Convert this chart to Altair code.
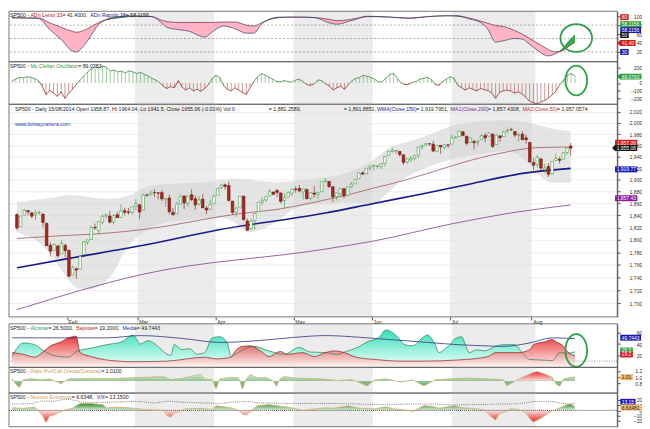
import altair as alt
import pandas as pd
import numpy as np

W = 615
XMIN, XMAX = -0.8, 160.2
FONT = "Liberation Sans"
FS = 5.3
TAG_FS = 5.0

# ---------------- data ----------------
month_names = ["Feb", "Mar", "Apr", "May", "Jun", "Jul", "Aug"]
month_start = [14, 33, 54, 75, 96, 117, 139]
shaded_months = [(33, 53), (75, 95), (117, 138)]

opens = [1841.3,1821.4,1840.5,1848.0,1844.2,1841.1,1844.7,1842.3,1827.0,1791.0,
1783.0,1790.2,1777.2,1790.9,1782.7,1743.8,1753.4,1753.0,1776.0,1796.2,
1800.4,1820.1,1814.8,1828.5,1839.0,1838.9,1829.2,1841.1,1836.8,1847.7,
1845.8,1844.9,1855.1,1857.7,1849.2,1874.1,1874.2,1878.5,1877.9,1878.3,
1866.2,1869.1,1845.1,1842.8,1858.9,1872.3,1860.1,1874.5,1867.7,1859.5,
1867.1,1852.1,1850.1,1859.2,1874.0,1886.6,1891.4,1890.3,1863.9,1845.5,
1852.6,1872.3,1830.7,1818.2,1831.5,1846.0,1861.7,1865.8,1872.6,1879.3,
1882.0,1877.7,1865.0,1870.8,1877.1,1884.4,1885.3,1879.5,1883.7,1868.5,
1877.4,1875.3,1880.0,1896.8,1897.1,1888.2,1871.2,1876.7,1884.9,1873.3,
1888.2,1893.3,1902.0,1911.8,1910.6,1920.3,1923.9,1923.1,1923.1,1928.5,
1942.4,1949.0,1950.3,1949.4,1943.4,1930.8,1934.8,1937.2,1942.7,1957.5,
1960.5,1962.9,1962.0,1949.3,1959.9,1956.6,1960.8,1962.3,1973.1,1975.9,
1984.2,1976.4,1965.1,1966.7,1965.8,1969.9,1977.4,1976.4,1979.8,1961.5,
1976.9,1975.7,1985.3,1988.1,1984.6,1978.3,1980.0,1973.2,1965.1,1929.8,
1926.6,1936.3,1917.3,1923.0,1910.4,1933.4,1935.7,1935.6,1947.4,1958.87]
highs = [1843.5,1839.3,1850.8,1848.0,1846.0,1849.3,1846.9,1842.3,1827.0,1796.0,
1793.9,1790.2,1798.8,1793.9,1784.8,1758.7,1755.8,1774.1,1798.0,1799.9,
1823.5,1826.6,1830.3,1841.7,1842.9,1847.5,1842.8,1846.1,1858.7,1852.9,
1852.7,1854.5,1867.9,1857.7,1876.2,1876.5,1881.9,1883.6,1877.9,1882.4,
1868.4,1874.4,1852.4,1862.3,1873.8,1874.1,1873.5,1884.0,1873.3,1871.9,
1875.9,1855.6,1866.6,1875.2,1885.8,1893.2,1893.8,1897.3,1864.0,1855.0,
1872.4,1872.5,1835.1,1834.2,1844.0,1862.3,1869.6,1871.9,1884.9,1879.8,
1884.1,1877.7,1877.0,1880.6,1885.2,1888.6,1891.3,1885.5,1883.7,1879.0,
1889.1,1878.8,1897.1,1902.2,1897.1,1888.2,1878.3,1886.0,1884.9,1888.8,
1896.3,1901.3,1912.3,1914.5,1920.0,1924.0,1925.9,1925.1,1928.6,1941.7,
1949.4,1955.6,1950.9,1949.4,1943.4,1937.3,1941.2,1943.7,1957.7,1959.9,
1963.9,1963.7,1968.2,1960.8,1959.9,1961.0,1962.8,1978.6,1976.7,1985.6,
1984.2,1976.4,1974.2,1969.8,1968.7,1979.8,1982.5,1983.9,1981.8,1979.9,
1976.9,1986.2,1989.2,1991.4,1984.6,1981.5,1984.9,1978.9,1965.1,1937.4,
1942.9,1936.3,1927.9,1928.9,1932.4,1944.9,1939.7,1948.4,1955.2,1964.04]
lows = [1815.5,1821.4,1840.5,1840.3,1835.2,1832.4,1840.9,1820.1,1790.3,1772.9,
1783.0,1771.0,1777.2,1772.3,1739.7,1743.8,1737.9,1753.0,1776.0,1791.8,
1800.4,1816.0,1809.2,1825.6,1835.0,1827.0,1824.9,1835.6,1836.8,1840.2,
1840.7,1841.1,1847.7,1834.4,1849.2,1871.9,1874.2,1870.6,1867.0,1863.9,
1854.4,1841.9,1839.6,1842.8,1858.9,1850.6,1854.6,1863.5,1849.7,1856.0,
1852.6,1842.1,1850.1,1859.2,1874.0,1883.8,1882.7,1863.3,1841.5,1837.5,
1852.4,1830.9,1814.4,1815.8,1816.3,1846.0,1856.7,1863.2,1872.6,1873.9,
1870.2,1859.7,1850.6,1870.8,1872.7,1878.0,1878.5,1866.8,1867.7,1864.9,
1870.1,1867.0,1880.0,1896.1,1885.8,1862.4,1864.8,1872.4,1868.1,1873.3,
1885.4,1893.3,1902.0,1908.5,1909.8,1916.6,1916.0,1918.8,1918.6,1922.9,
1942.4,1947.2,1944.6,1940.1,1925.8,1927.7,1930.9,1933.6,1937.9,1952.3,
1959.2,1958.9,1948.3,1947.5,1944.7,1952.2,1955.3,1962.3,1972.6,1975.9,
1975.7,1959.5,1965.1,1952.9,1959.6,1969.9,1965.3,1975.7,1955.6,1960.8,
1965.8,1975.7,1982.4,1985.8,1974.4,1966.9,1969.9,1962.4,1930.7,1916.4,
1921.2,1913.8,1911.5,1904.8,1909.0,1933.4,1928.3,1935.6,1942.9,1941.5]
closes = [1819.2,1838.9,1848.4,1845.9,1838.7,1843.8,1844.9,1828.5,1790.3,1781.6,
1792.5,1774.2,1794.2,1782.6,1741.9,1755.2,1751.6,1773.4,1797.0,1799.8,
1819.8,1819.3,1829.8,1838.6,1840.8,1828.8,1839.8,1836.3,1847.6,1845.1,
1845.2,1854.3,1859.5,1845.7,1873.9,1873.8,1877.0,1878.0,1877.2,1867.6,
1868.2,1846.3,1841.1,1858.8,1872.3,1860.8,1872.0,1866.5,1857.4,1865.6,
1852.6,1849.0,1857.6,1872.3,1885.5,1890.9,1888.8,1865.1,1845.0,1851.9,
1872.2,1833.1,1815.7,1830.6,1843.0,1862.3,1864.9,1871.9,1879.6,1875.4,
1878.6,1863.4,1869.4,1878.3,1884.0,1883.7,1881.1,1884.7,1867.7,1878.2,
1875.6,1878.5,1896.7,1897.5,1888.5,1870.9,1877.9,1885.1,1872.8,1888.0,
1892.5,1900.5,1911.9,1909.8,1920.0,1923.6,1925.0,1924.2,1927.9,1940.5,
1949.4,1951.3,1950.8,1943.9,1930.1,1936.2,1937.8,1942.0,1957.0,1959.5,
1962.9,1962.6,1950.0,1959.5,1957.2,1961.0,1960.2,1973.3,1974.6,1985.4,
1977.7,1963.7,1972.8,1964.7,1967.6,1977.1,1973.3,1981.6,1958.1,1978.2,
1973.6,1983.5,1987.0,1988.0,1978.3,1978.9,1970.0,1970.1,1930.7,1925.2,
1939.0,1920.2,1920.2,1909.6,1931.6,1936.9,1933.8,1946.7,1955.2,1955.06]

ma50_idx = [0,10,20,30,40,50,60,70,80,90,96,100,110,120,130,140,149]
ma50_val = [1802,1806,1809,1814,1822,1833,1843,1850,1862,1876,1886,1892,1910,1930,1946,1956,1957.06]
wma_idx = [0,14,34,54,83,96,109,122,137,149]
wma_val = [1755,1770,1791,1816,1844,1860,1876,1893,1912,1919.77]
ma200_idx = [0,34,83,96,117,135,142,149]
ma200_val = [1690,1745,1785,1798,1826,1846,1852,1857.43]
band_idx = [0,5,10,14,17,20,25,30,35,40,45,50,55,60,62,65,70,75,80,85,90,96,100,105,110,117,125,132,138,141,144,149]
band_up = [1862,1866,1870,1874,1873,1870,1868,1873,1888,1893,1894,1896,1900,1902,1901,1898,1896,1898,1902,1906,1915,1935,1955,1966,1976,1995,2003,2005,2000,1995,1990,1985]
band_lo = [1812,1800,1770,1735,1722,1722,1740,1790,1815,1828,1832,1835,1836,1822,1812,1815,1830,1852,1858,1860,1862,1858,1880,1905,1920,1935,1945,1950,1925,1905,1895,1895]

adn_idx = [0,4,7,10,13,16,17,20,23,25,28,31,35,37,40,41,44,47,50,51,53,56,59,62,64,66,68,71,75,80,84,86,89,91,94,100,105,110,115,118,121,124,126,128,130,133,135,137,139,141,142,144,145,146,147,148,149]
adn_lento = [96,96,96,85,75,66,64,72,86,92,96,99,100,99,90,88,86,86,86,86,86,87,87,80,78,85,92,97,98,97,93,90,92,95,99,98,96,99,101,100,96,89,84,79,77,68,60,50,40,30,25,20,21,24,30,36,41.4]
adn_rapido = [97,96,95,70,48,22,20,45,82,93,99,101,100,99,82,75,70,66,55,53,65,78,72,62,62,82,93,98,98,97,85,82,88,93,100,98,95,99,101,101,94,86,70,42,45,50,49,37,24,13,11,17,22,30,40,50,58.1156]
adn_dash = [80, 50, 20]

mcc_val = [25,50,70,65,78,72,55,30,
-40,-150,-90,-130,-170,-110,-195,-130,-80,-20,
40,90,140,180,205,190,215,200,
150,165,140,150,125,155,140,120,135,110,
90,60,40,10,
-40,-70,-45,-60,30,
-50,-90,-60,-100,-80,-105,-70,-20,
60,98,70,
-30,-80,-100,-60,-90,-120,-145,
-60,20,80,119,100,75,50,20,
15,30,20,10,35,50,20,
-20,-30,-10,40,30,-10,
-40,-90,-60,-40,-80,
-20,30,60,70,98,85,70,50,
10,20,60,
110,119,60,
0,-20,-15,10,20,
50,60,70,45,-20,-30,
20,50,80,60,
-30,-60,-90,-60,-80,-100,-70,-85,-95,-130,-194,-120,-100,-90,-100,-130,-110,-140,-180,-230,-250,-262,-240,-220,-190,-150,-100,-20,
40,100,119,89.0783]

alc_idx = [0,3,6,8,11,13,15,17,21,25,29,32,34,36,39,41,42,43,45,47,49,51,53,55,57,58,59,64,68,72,76,79,83,86,88,92,94,97,99,102,104,106,109,110,112,113,115,116,117,119,120,121,123,125,128,130,133,135,137,140,143,145,147,149]
alc_val = [18,42,39,30,20,18,17,27,33,39,44,56,40,46,34,22,20,39,30,32,22,25,51,53,42,18,22,36,28,22,34,26,25,22,26,36,44,51,65,53,39,37,53,56,39,25,34,39,48,53,39,25,30,28,36,39,39,25,13,12,11,25,24,26.5]
baj_idx = [0,3,6,8,10,13,15,16,17,18,21,25,32,41,51,54,58,59,61,63,66,68,71,73,77,80,83,85,88,91,96,103,109,118,126,128,134,137,138,141,143,144,146,147,149]
baj_val = [25,22,17,25,36,44,51,53,54,25,18,12,9,10,17,14,17,27,36,37,27,18,27,22,25,18,25,28,25,17,13,10,10,12,18,25,25,30,39,44,48,44,36,27,19.2]
media_idx = [0,25,34,45,55,65,75,83,92,100,110,118,125,130,137,143,149]
media_val = [51,51,55,50,43,46,52,55,52,48,43,39,37,36,42,51,49.7443]

pc_idx = [0,1,2,3,5,8,10,13,15,20,25,30,35,40,42,45,48,50,51,53,54,55,58,60,61,62,63,65,67,69,70,71,72,75,80,83,86,90,94,96,99,103,106,109,112,117,121,126,130,131,132,134,136,138,139,141,143,144,145,146,148,149]
pc_val = [0.96,0.78,0.69,0.92,0.96,0.92,0.95,0.80,0.95,0.97,0.96,0.98,1.0,1.03,0.93,0.97,1.05,1.09,0.95,0.92,0.63,0.95,1.0,0.98,0.63,0.95,1.09,0.98,1.0,0.90,0.72,0.95,1.02,0.98,0.96,0.94,0.90,0.93,0.73,0.92,0.95,0.85,0.92,0.73,0.92,0.96,0.98,0.95,0.93,0.73,0.80,0.94,1.05,1.15,1.18,1.10,1.0,0.78,0.72,0.95,1.0,1.01]

ne_idx = [0,3,6,7,8,9,10,11,12,14,16,17,18,21,24,25,28,31,35,40,41,42,43,46,50,53,54,56,58,60,61,62,63,65,68,71,74,77,80,83,85,89,92,96,99,101,104,106,109,111,113,117,119,122,125,127,128,129,132,134,135,136,137,138,140,142,143,145,147,148,149]
ne_val = [5,4,6,0,-9,-23,-10,-9,-5,1,4,9,13,13,11,5,6,5,2,0,-9,-13,-5,3,4,2,9,7,5,0,-7,-9,-3,9,11,8,5,0,3,5,4,9,4,3,7,3,1,-2,9,8,4,9,5,4,1,-13,-18,-7,3,2,-1,-5,-15,-22,-15,-5,-1,5,11,12,6.6348]
vix_idx = [0,5,8,11,14,16,19,25,33,38,41,45,55,58,62,66,75,84,88,95,100,105,112,117,122,128,131,135,138,141,143,145,147,149]
vix_val = [12.3,12.9,18.1,17.3,21.4,19.9,15.3,15.5,17.4,14.2,17.8,15.8,13.1,15.6,17.0,14.0,13.3,13.2,12.9,11.4,10.7,12.2,12.1,10.3,11.0,12.0,12.1,13.3,17.0,16.9,16.7,14.2,12.4,13.15]

# ---------------- helpers ----------------
_w = {}
for chars, wv in [("ijl'|", 222), (" ,./:;ftI!", 278), ("-()r[]", 333), ("ckvxyzsJ", 500),
                  ("0123456789abdeghnopquL", 556), ("=+<>", 584), ("TZF", 611),
                  ("ABESPVXYK", 667), ("CDHNRUw", 722), ("GOQ", 778), ("mM", 833), ("%", 889), ("W", 944)]:
    for ch in chars:
        _w[ch] = wv


def tw(s, fs=FS):
    return sum(_w.get(ch, 556) for ch in s) / 1000.0 * fs


def px2idx(px):
    return XMIN + px * (XMAX - XMIN) / W


xscale = alt.Scale(domain=[XMIN, XMAX], nice=False, zero=False)


def X(field, axis=None):
    return alt.X(field, type="quantitative", scale=xscale, axis=axis, title=None)


def raxis(values, fmt=None, grid=False):
    kw = dict(orient="right", values=values, tickSize=3, labelFontSize=FS, labelFont=FONT,
              labelColor="#333333", tickColor="#555555", domainColor="#555555",
              labelAlign="right", labelPadding=22, grid=grid, title=None,
              labelOverlap=False, labelBound=False)
    if fmt:
        kw["format"] = fmt
    if grid:
        kw.update(gridColor="#e0e0e0", gridWidth=0.6)
    return alt.Axis(**kw)


def yfac(scale, axis):
    def Y(field):
        return alt.Y(field, type="quantitative", scale=scale, axis=axis, title=None)
    return Y


shade_df = pd.DataFrame({"x0": [a - 0.5 for a, b in shaded_months],
                         "x1": [b + 0.5 for a, b in shaded_months]})
one_df = pd.DataFrame({"a": [0]})


def shade(H, xa=None):
    return alt.Chart(shade_df).mark_rect(color="#e2e2e2", opacity=0.65).encode(
        x=X("x0", xa), x2="x1", y=alt.value(0), y2=alt.value(H))


def frame(H):
    return alt.Chart(one_df).mark_rect(fillOpacity=0, stroke="#555555", strokeWidth=0.8).encode(
        x=alt.value(0), x2=alt.value(W), y=alt.value(0), y2=alt.value(H))


def titles(segs, y=4, xa=None, start_px=1.0):
    rows = []
    px = start_px
    for s in segs:
        if len(s) > 2:
            px = s[2]
        rows.append({"tx": px2idx(px), "t": s[0], "c": s[1]})
        px += tw(s[0])
    df = pd.DataFrame(rows)
    return alt.Chart(df).mark_text(align="left", baseline="middle", font=FONT, fontSize=FS).encode(
        x=X("tx", xa), y=alt.value(y), text="t:N", color=alt.Color("c:N", scale=None))


def tags(taglist, Y, xa=None):
    rows = []
    left = 618.0
    for text, pos, bg, fg, arrow in taglist:
        w = tw(text, TAG_FS) + 3.0
        h = 6.0
        s = w / 2.0
        a = h / w
        if arrow:
            path = f"M{-1 - 3.0 / s:.4f},0L-1,{-a:.4f}L1,{-a:.4f}L1,{a:.4f}L-1,{a:.4f}Z"
        else:
            path = f"M-1,{-a:.4f}L1,{-a:.4f}L1,{a:.4f}L-1,{a:.4f}Z"
        rows.append({"bx": px2idx(left + w / 2.0), "tx": px2idx(left + 1.5), "pos": pos,
                     "path": path, "sz": w * w, "bg": bg, "fg": fg, "t": text})
    df = pd.DataFrame(rows)
    base = alt.Chart(df)
    boxes = base.mark_point(filled=True, opacity=1, strokeWidth=0).encode(
        x=X("bx", xa), y=Y("pos"), shape=alt.Shape("path:N", scale=None),
        size=alt.Size("sz:Q", scale=None), fill=alt.Fill("bg:N", scale=None))
    texts = base.mark_text(align="left", baseline="middle", font=FONT, fontSize=TAG_FS).encode(
        x=X("tx", xa), y=Y("pos"), text="t:N", color=alt.Color("fg:N", scale=None))
    return alt.layer(boxes, texts)


def ellipse(xi, yv, w, h, Y):
    a = h / w
    path = f"M-1,0A1,{a:.4f} 0 1,1 1,0A1,{a:.4f} 0 1,1 -1,0Z"
    df = pd.DataFrame({"ex": [xi], "ey": [yv]})
    return alt.Chart(df).mark_point(shape=path, size=w * w, filled=False, stroke="#2ca048",
                                    strokeWidth=1.8, opacity=1).encode(x=X("ex"), y=Y("ey"))


def grad(c_top, c_bot):
    return alt.Gradient(gradient="linear",
                        stops=[alt.GradientStop(color=c_top, offset=0),
                               alt.GradientStop(color=c_bot, offset=1)],
                        x1=0, x2=0, y1=0, y2=1)


BLK = "#222222"
ELL_X = px2idx(573.5)

# ---------------- panel 1: ADn ----------------
H1 = 51
Y1 = yfac(alt.Scale(domain=[-2, 111], nice=False, zero=False), raxis([20, 40, 60, 80, 100]))
adn = pd.DataFrame({"idx": adn_idx, "L": adn_lento, "R": adn_rapido})
adn["lo"] = np.minimum(adn["L"], adn["R"])
t1 = [("SP500 - ", BLK), ("ADn Lento 33", "#c02020"), (" = 41.4000, ", BLK),
      ("ADn Rapido 18", "#2020a0"), (" = 58.1156", BLK)]
tags1 = [("80", 97.8, "#d41a1a", "#ffffff", False),
         ("58.1156", 82.2, "#2e9e3a", "#ffffff", False),
         ("58.1156", 68.9, "#1a1ab4", "#ffffff", False),
         ("50", 57.8, "#111111", "#ffffff", False),
         ("41.40", 40.0, "#d41a1a", "#ffffff", True),
         ("30", 20.0, "#1a1ab4", "#ffffff", False)]
p1 = alt.layer(
    shade(H1),
    alt.Chart(pd.DataFrame({"v": adn_dash})).mark_rule(color="#777777", strokeDash=[2, 2], strokeWidth=0.6).encode(y=Y1("v")),
    alt.Chart(adn).mark_area(color="#ffb3c4", interpolate="monotone").encode(x=X("idx"), y=Y1("L"), y2="lo"),
    alt.Chart(adn).mark_area(color="#35b040", interpolate="monotone").encode(x=X("idx"), y=Y1("R"), y2="lo"),
    alt.Chart(adn).mark_line(color="#6a2a3a", strokeWidth=0.7, interpolate="monotone").encode(x=X("idx"), y=Y1("L")),
    alt.Chart(adn).mark_line(color="#3a3a6a", strokeWidth=0.7, interpolate="monotone").encode(x=X("idx"), y=Y1("R")),
    titles(t1),
    tags(tags1, Y1),
    ellipse(ELL_X, 51, 32, 28, Y1),
    frame(H1),
).properties(width=W, height=H1)

# ---------------- panel 2: McClellan ----------------
H2 = 43
Y2 = yfac(alt.Scale(domain=[-269, 269], nice=False, zero=False), raxis([-200, -100, 0, 100, 200]))
mcc = pd.DataFrame({"idx": list(range(len(mcc_val))), "v": mcc_val})
mcc["z"] = 0.0
mcc["c"] = np.where(mcc["v"] >= 0, "#62a862", "#b25050")
seg = mcc.iloc[:-1].copy()
seg["nx"] = mcc["idx"].values[1:]
seg["nv"] = mcc["v"].values[1:]
seg["c"] = np.where((seg["v"] + seg["nv"]) >= 0, "#3f8a3f", "#9a3030")
t2 = [("SP500 - ", BLK), ("Mc Clellan Oscillator", "#3a9a3a"), (" = 89.0783", BLK)]
tags2 = [("89.0783", 81, "#2e9e3a", "#ffffff", True)]
p2 = alt.layer(
    shade(H2),
    alt.Chart(mcc).mark_rule(strokeWidth=0.6).encode(x=X("idx"), y=Y2("v"), y2="z", color=alt.Color("c:N", scale=None)),
    alt.Chart(seg).mark_rule(strokeWidth=0.8).encode(x=X("idx"), x2="nx", y=Y2("v"), y2="nv", color=alt.Color("c:N", scale=None)),
    titles(t2),
    tags(tags2, Y2),
    ellipse(ELL_X, 31, 22, 30, Y2),
    frame(H2),
).properties(width=W, height=H2)

# ---------------- panel 3: price ----------------
H3 = 215
month_expr = " : ".join(f"datum.value == {s - 0.5} ? '{n}'" for s, n in zip(month_start, month_names)) + " : ''"
MAX = alt.Axis(values=[s - 0.5 for s in month_start], labelExpr=month_expr, orient="bottom", tickSize=3,
               tickColor="#555555", labelAlign="left", labelFontSize=FS, labelFont=FONT, labelColor="#333333",
               labelPadding=0, labelOffset=1, domain=False, grid=False, labelBound=False, labelOverlap=False,
               title=None)
Y3 = yfac(alt.Scale(type="log", domain=[1679, 2034], nice=False, zero=False),
          raxis(list(range(1700, 2021, 20)), fmt=",.0f", grid=True))
candles = pd.DataFrame({"idx": list(range(len(closes))), "o": opens, "h": highs, "l": lows, "c": closes})
up = candles["c"] >= candles["o"]
candles["wick"] = np.where(up, "#3a8f3a", "#7a1a10")
candles["fillc"] = np.where(up, "#ffffff", "#a8281c")
candles["strk"] = np.where(up, "#3a9a3a", "#6e150e")
band = pd.DataFrame({"idx": band_idx, "u": band_up, "lo": band_lo})
ma50 = pd.DataFrame({"idx": ma50_idx, "v": ma50_val})
wma = pd.DataFrame({"idx": wma_idx, "v": wma_val})
ma200 = pd.DataFrame({"idx": ma200_idx, "v": ma200_val})
t3 = [("SP500 - Daily 15/08/2014 Open 1958.87, Hi 1964.04, Lo 1941.5, Close 1955.06 (-0.01%) Vol 0", BLK),
      ("= 1,881.2589,", BLK, 262),
      ("= 1,891.8851, ", BLK, 339), ("WMA(Close,150)", "#1a1a90"), (" = 1,919.7951, ", BLK),
      ("MA1(Close,200)", "#7a2a8a"), (" = 1,857.4308, ", BLK), ("MA2(Close,50)", "#c03030"),
      (" = 1,957.0574", BLK)]
t3b = [("www.bolsaycartera.com", "#2a3ab0")]
tags3 = [("1,957.06", 1964.6, "#d41a1a", "#ffffff", False),
         ("1,955.06", 1955.2, "#111111", "#ffffff", True),
         ("1,919.77", 1918.0, "#1a1ab4", "#ffffff", False),
         ("1,857.43", 1868.7, "#8a1a9a", "#ffffff", False)]
p3 = alt.layer(
    shade(H3, MAX),
    alt.Chart(band).mark_area(color="#d4d4d4", opacity=0.6, interpolate="monotone").encode(x=X("idx", MAX), y=Y3("u"), y2="lo"),
    alt.Chart(ma200).mark_line(color="#7a3f8f", strokeWidth=0.8, interpolate="monotone").encode(x=X("idx", MAX), y=Y3("v")),
    alt.Chart(wma).mark_line(color="#1a1a8a", strokeWidth=1.6, interpolate="monotone").encode(x=X("idx", MAX), y=Y3("v")),
    alt.Chart(ma50).mark_line(color="#a05a5a", strokeWidth=0.8, interpolate="monotone").encode(x=X("idx", MAX), y=Y3("v")),
    alt.Chart(candles).mark_rule(strokeWidth=0.6).encode(x=X("idx", MAX), y=Y3("l"), y2="h", color=alt.Color("wick:N", scale=None)),
    alt.Chart(candles).mark_bar(size=2.6, strokeWidth=0.6).encode(
        x=X("idx", MAX), y=Y3("o"), y2="c", fill=alt.Fill("fillc:N", scale=None), stroke=alt.Stroke("strk:N", scale=None)),
    titles(t3, y=5, xa=MAX),
    titles(t3b, y=20, xa=MAX),
    tags(tags3, Y3, MAX),
    frame(H3),
).properties(width=W, height=H3)

# spacer strip that holds the month labels of the price panel
spacer = alt.Chart(one_df).mark_text(text="").encode(x=alt.value(0), y=alt.value(0)).properties(width=W, height=7)

# ---------------- panel 4: Alcistas / Bajistas ----------------
H4 = 44
Y4 = yfac(alt.Scale(domain=[-1, 75.7], nice=False, zero=False), raxis([20, 40, 60]))
alc = pd.DataFrame({"idx": alc_idx, "v": alc_val, "z": 0.0})
baj = pd.DataFrame({"idx": baj_idx, "v": baj_val, "z": 0.0})
med = pd.DataFrame({"idx": media_idx, "v": media_val})
t4 = [("SP500 - ", BLK), ("Alcistas", "#3a9a6a"), (" = 26.5000, ", BLK), ("Bajistas", "#c03030"),
      (" = 19.2000, ", BLK), ("Media", "#2a2a90"), (" = 49.7443", BLK)]
tags4 = [("49.7443", 51.3, "#1a1ab4", "#ffffff", False),
         ("26.5", 28.7, "#2e9e3a", "#ffffff", False),
         ("19.2", 21.7, "#d41a1a", "#ffffff", False)]
p4 = alt.layer(
    shade(H4),
    alt.Chart(pd.DataFrame({"v": [10]})).mark_rule(color="#555555", strokeDash=[1, 1.5], strokeWidth=0.7).encode(y=Y4("v")),
    alt.Chart(alc).mark_area(color=grad("#2fe0b8", "#f4fffb"), interpolate="monotone").encode(x=X("idx"), y=Y4("v"), y2="z"),
    alt.Chart(baj).mark_area(color=grad("#e81818", "#fff2f2"), opacity=0.85, interpolate="monotone").encode(x=X("idx"), y=Y4("v"), y2="z"),
    alt.Chart(alc).mark_line(color="#2e7d50", strokeWidth=0.7, interpolate="monotone").encode(x=X("idx"), y=Y4("v")),
    alt.Chart(baj).mark_line(color="#8b2020", strokeWidth=0.7, interpolate="monotone").encode(x=X("idx"), y=Y4("v")),
    alt.Chart(med).mark_line(color="#303080", strokeWidth=0.8, interpolate="monotone").encode(x=X("idx"), y=Y4("v")),
    titles(t4),
    tags(tags4, Y4),
    ellipse(ELL_X, 28.7, 22, 33, Y4),
    frame(H4),
).properties(width=W, height=H4)

# ---------------- panel 5: Put/Call ----------------
H5 = 26
Y5 = yfac(alt.Scale(domain=[0.507, 1.308], nice=False, zero=False), raxis([0.8, 1.0, 1.2], fmt=".1f"))
pc = pd.DataFrame({"idx": pc_idx, "v": pc_val, "b": 0.88})
pc_red = pc[(pc["idx"] >= 134) & (pc["idx"] <= 143)].copy()
pc_red["b"] = 0.9
t5 = [("SP500 - ", BLK), ("Ratio Put/Call (Venta/Compra)", "#d09a50"), (" = 1.0100", BLK)]
tags5 = [("1.01", 1.0, "#f7b86c", "#222222", False)]
p5 = alt.layer(
    shade(H5),
    alt.Chart(pc).mark_area(color=grad("#e6f5e6", "#2f8f2f"), opacity=0.85).encode(x=X("idx"), y=Y5("v"), y2="b"),
    alt.Chart(pc_red).mark_area(color=grad("#e02828", "#ffd8d8")).encode(x=X("idx"), y=Y5("v"), y2="b"),
    alt.Chart(pc).mark_line(color="#d8b888", strokeWidth=0.8).encode(x=X("idx"), y=Y5("v")),
    titles(t5),
    tags(tags5, Y5),
    frame(H5),
).properties(width=W, height=H5)

# ---------------- panel 6: Nuevos Extremos / VIX ----------------
H6 = 34
Y6 = yfac(alt.Scale(domain=[-31, 33], nice=False, zero=False), raxis([-20, -10, 0, 10, 20]))
ne = pd.DataFrame({"idx": ne_idx, "v": ne_val})
ne["pos"] = np.maximum(ne["v"], 0)
ne["neg"] = np.minimum(ne["v"], 0)
ne["z"] = 0.0
vix = pd.DataFrame({"idx": vix_idx, "v": vix_val})
t6 = [("SP500 - ", BLK), ("Nuevos Extremos", "#d09a50"), (" = 6.6348, ", BLK), ("VIX", "#2a2a90"), (" = 13.1500", BLK)]
tags6 = [("13.15", 16.4, "#1a1ab4", "#ffffff", False),
         ("6.63481", 5.45, "#f7b86c", "#222222", False)]
p6 = alt.layer(
    shade(H6),
    alt.Chart(ne).mark_area(color=grad("#2e8b2e", "#e0f2e0")).encode(x=X("idx"), y=Y6("pos"), y2="z"),
    alt.Chart(ne).mark_area(color=grad("#ffe0e0", "#e02020")).encode(x=X("idx"), y=Y6("neg"), y2="z"),
    alt.Chart(pd.DataFrame({"v": [0]})).mark_rule(color="#222222", strokeDash=[1, 1], strokeWidth=0.8).encode(y=Y6("v")),
    alt.Chart(ne).mark_line(color="#d8b070", strokeWidth=0.8).encode(x=X("idx"), y=Y6("v")),
    alt.Chart(vix).mark_line(color="#444444", strokeWidth=0.7, strokeDash=[1, 1.2]).encode(x=X("idx"), y=Y6("v")),
    titles(t6),
    tags(tags6, Y6),
    frame(H6),
).properties(width=W, height=H6)

chart = alt.vconcat(p1, p2, p3, spacer, p4, p5, p6, spacing=0, bounds="flush").properties(
    padding=0, background="white"
).configure_view(stroke=None)

chart.save("out.html", embed_options={"renderer": "svg", "actions": False})
